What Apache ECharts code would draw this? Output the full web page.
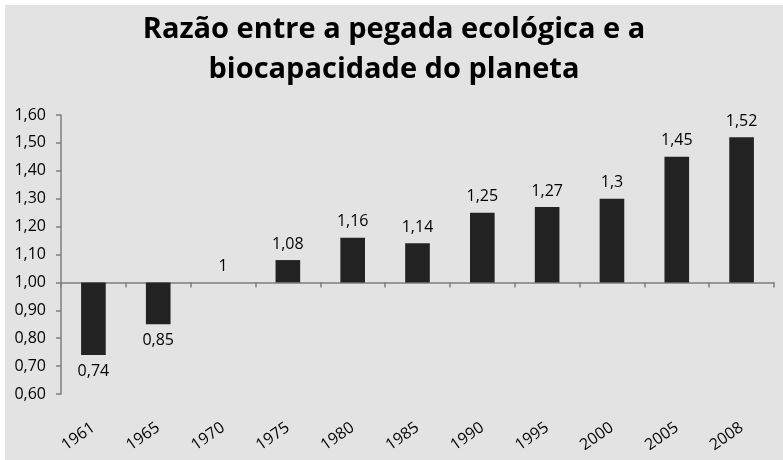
<!DOCTYPE html>
<html>
<head>
<meta charset="utf-8">
<script src="https://cdn.jsdelivr.net/npm/echarts@6/dist/echarts.min.js"></script>
<style>
  body { margin: 0; background: #ffffff; }
  #main { position: absolute; left: 5px; top: 5px; width: 778px; height: 455px; background: #e3e3e3; }
</style>
</head>
<body>
<div id="main"></div>
<script>
var anos = ['1961', '1965', '1970', '1975', '1980', '1985', '1990', '1995', '2000', '2005', '2008'];
var razao = [0.74, 0.85, 1, 1.08, 1.16, 1.14, 1.25, 1.27, 1.3, 1.45, 1.52];
var base = 1; // barras partem de 1,00

var myChart = echarts.init(document.getElementById('main'));

var fonte = '"Open Sans", sans-serif';

function virgula(v, casas) {
  return casas == null ? String(v).replace('.', ',') : v.toFixed(casas).replace('.', ',');
}

var dados = razao.map(function (v) {
  return {
    value: +(v - base).toFixed(4),
    real: v,
    label: { position: v < base ? 'bottom' : 'top' }
  };
});

myChart.setOption({
  title: {
    text: 'Razão entre a pegada ecológica e a\nbiocapacidade do planeta',
    left: 'center',
    top: 0,
    textStyle: {
      fontFamily: fonte,
      fontWeight: 'bold',
      fontSize: 29,
      lineHeight: 40,
      color: '#000'
    }
  },
  grid: { left: 56, right: 9, top: 110, bottom: 66 },
  xAxis: [
    {
      type: 'category',
      data: anos,
      axisLine: { onZero: true, lineStyle: { color: '#7f7f7f', width: 1.5 } },
      axisTick: { show: true, length: 5, lineStyle: { color: '#7f7f7f', width: 1.5 } },
      axisLabel: { show: false }
    },
    {
      type: 'category',
      data: anos,
      position: 'bottom',
      axisLine: { show: false, onZero: false },
      axisTick: { show: false },
      axisLabel: {
        rotate: 35,
        margin: 32,
        fontFamily: fonte,
        fontSize: 16,
        color: '#000'
      }
    }
  ],
  yAxis: {
    type: 'value',
    min: -0.4,
    max: 0.6,
    interval: 0.1,
    splitLine: { show: false },
    axisLine: { show: true, lineStyle: { color: '#7f7f7f', width: 1.5 } },
    axisTick: { show: true, length: 5, lineStyle: { color: '#7f7f7f', width: 1.5 } },
    axisLabel: {
      margin: 15,
      fontFamily: fonte,
      fontSize: 16,
      color: '#000',
      formatter: function (v) { return virgula(v + base, 2); }
    }
  },
  series: [
    {
      type: 'bar',
      xAxisIndex: 0,
      data: dados,
      barWidth: '38%',
      itemStyle: { color: '#222222' },
      label: {
        show: true,
        distance: 8,
        fontFamily: fonte,
        fontSize: 16,
        color: '#000',
        formatter: function (p) { return virgula(p.data.real); }
      }
    }
  ]
});
</script>
</body>
</html>
